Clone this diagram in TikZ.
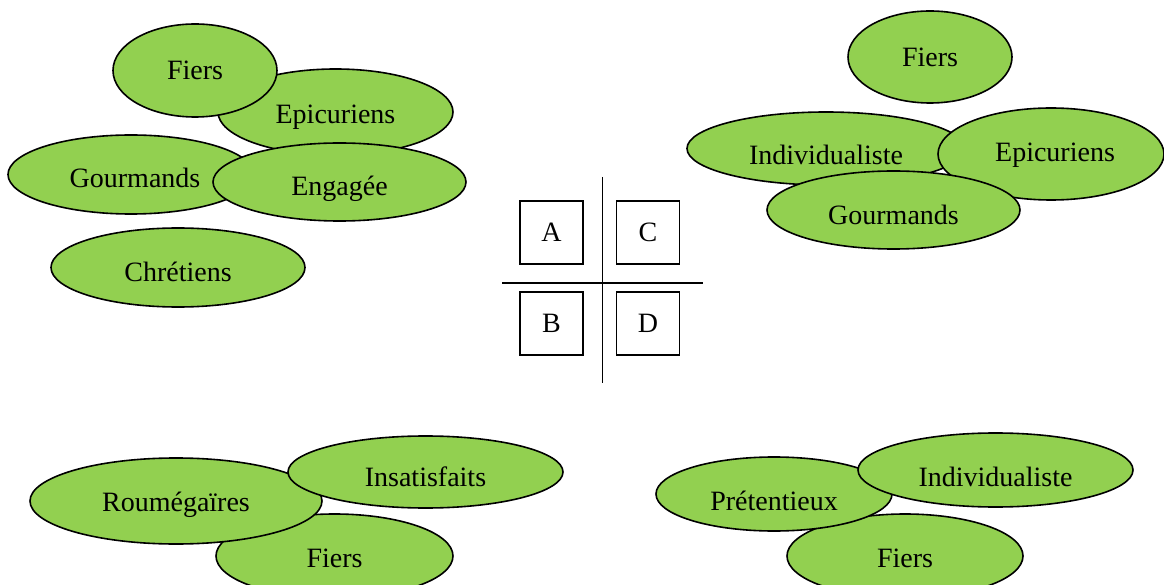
\documentclass[tikz,border=0pt]{standalone}
\usepackage{fontspec}
\setmainfont{Liberation Serif}
\usetikzlibrary{shapes.geometric}
\definecolor{leaf}{HTML}{92D050}
\tikzset{
  blob/.style={ellipse, draw=black, fill=leaf, line width=1.6pt, inner sep=0pt,
    text depth=0pt, font=\fontsize{28}{32}\selectfont},
  letterbox/.style={rectangle, draw=black, line width=1.3pt, minimum size=63pt,
    inner sep=0pt, font=\fontsize{28}{32}\selectfont},
  axis/.style={line width=1.5pt}
}
% name, x, y, rx, ry, downward shift of the label, label
\newcommand{\blobat}[7]{%
  \pgfmathsetmacro\blobtexth{2*(#6+9.27)}%
  \node[blob, minimum width=2*#4pt, minimum height=2*#5pt,
        text height=\blobtexth pt] (#1) at (#2,#3) {#7};}
\begin{document}
\begin{tikzpicture}[x=1pt, y=-1pt]
\useasboundingbox (0,0) rectangle (1164,585);

% upper left group
\blobat{ulEpi}{335.5}{112}{117.5}{43}{2.5}{Epicuriens}
\blobat{ulFiers}{195}{70.5}{82}{46.5}{0}{Fiers}
\blobat{ulGour}{131}{174.5}{123}{39.5}{4}{\hspace*{8pt}Gourmands}
\blobat{ulEng}{339.5}{182}{126.5}{39}{4}{Engagée}
\blobat{ulChr}{178}{267.5}{127}{39.5}{4.5}{Chrétiens}

% upper right group
\blobat{urFiers}{930}{57}{82}{46}{0}{Fiers}
\blobat{urInd}{826}{148.5}{139}{36.5}{6.5}{Individualiste}
\blobat{urEpi}{1051}{154}{113}{46}{-1.5}{\hspace*{8pt}Epicuriens}
\blobat{urGour}{893.5}{210}{126.5}{39}{5}{Gourmands}

% lower left group
\blobat{llFiers}{334.5}{556}{118.5}{42}{2}{Fiers}
\blobat{llRou}{176}{501}{146}{43}{1.5}{Roumégaïres}
\blobat{llIns}{425.5}{472}{137.5}{36}{5.5}{Insatisfaits}

% lower right group
\blobat{lrFiers}{905}{556}{118}{42}{2}{Fiers}
\blobat{lrPre}{774}{494}{118}{37}{7}{Prétentieux}
\blobat{lrInd}{995.5}{470}{137.5}{37}{7.5}{Individualiste}

% central quadrant
\coordinate (vTop) at (602.7,177);
\coordinate (vBot) at (602.7,383);
\coordinate (hLeft) at (502,283);
\coordinate (hRight) at (703,283);
\draw[axis] (vTop) -- (vBot);
\draw[axis] (hLeft) -- (hRight);

\node[letterbox] (qA) at (551.5,232.5) {A};
\node[letterbox] (qC) at (648,232.5) {C};
\node[letterbox] (qB) at (551.5,323.5) {B};
\node[letterbox] (qD) at (648,323.5) {D};
\end{tikzpicture}
\end{document}
